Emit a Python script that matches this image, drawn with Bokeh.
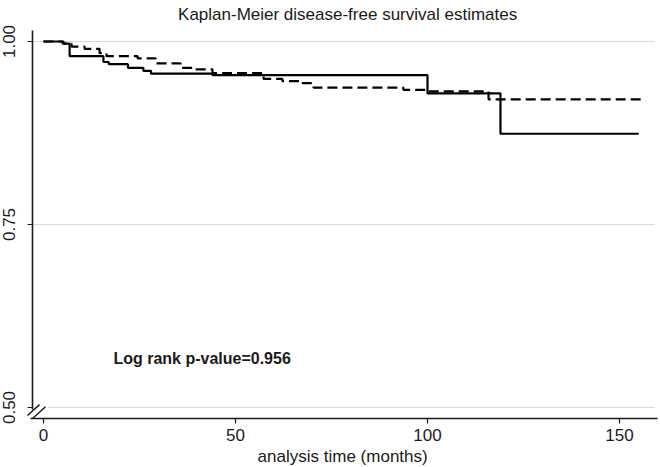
from bokeh.plotting import figure
from bokeh.models import Range1d, Label, FixedTicker, LinearAxis, NumeralTickFormatter
from bokeh.embed import file_html
from bokeh.resources import INLINE

# ---- texts ----
title_text = "Kaplan-Meier disease-free survival estimates"
x_label = "analysis time (months)"
note_text = "Log rank p-value=0.956"

# ---- ticks ----
x_ticks = [0, 50, 100, 150]
y_ticks = [0.50, 0.75, 1.00]
y_tick_labels = ["0.50", "0.75", "1.00"]

# ---- survival curves (time in months, survival probability) ----
group1_t = [0, 5.0, 6.8, 15.6, 17.0, 22.0, 26.0, 28.0, 44.0, 100.0, 119.0, 155.0]
group1_s = [1.0, 0.997, 0.980, 0.972, 0.969, 0.964, 0.960, 0.956, 0.954, 0.929, 0.874, 0.874]

group2_t = [0, 5.2, 7.3, 10.7, 14.6, 16.4, 24.5, 29.2, 35.7, 39.6, 44.0, 57.3, 62.2,
            66.9, 70.3, 93.7, 99.7, 115.9, 156.8]
group2_s = [1.0, 0.997, 0.993, 0.990, 0.984, 0.980, 0.977, 0.970, 0.964, 0.962, 0.957,
            0.949, 0.946, 0.943, 0.937, 0.934, 0.932, 0.921, 0.921]

FONT = "Liberation Sans"
INK = "#1a1a1a"

W, H = 658, 466
x_start = -11.2
x_end = x_start + W / 3.84
y_end = 1.05601
y_start = y_end - H / 732.0
x_axis_at = 0.485
y_axis_at = -2.86

p = figure(frame_width=W, frame_height=H, output_backend="svg", toolbar_location=None,
           x_range=Range1d(x_start, x_end), y_range=Range1d(y_start, y_end),
           x_axis_location=None, y_axis_location=None, min_border=0,
           outline_line_color=None, background_fill_color="white", border_fill_color="white")
p.xgrid.visible = False
p.ygrid.visible = False

# grid lines
grid_x0 = [1.3 if yt == min(y_ticks) else -2.6 for yt in y_ticks]
p.segment(x0=grid_x0, y0=y_ticks, x1=[x_end - 1] * len(y_ticks), y1=y_ticks,
          line_color="#d8d8d8", line_width=1.2)

# axes
xaxis = LinearAxis(fixed_location=x_axis_at, ticker=FixedTicker(ticks=x_ticks),
                   bounds=(-3.4, 160))
yaxis = LinearAxis(fixed_location=y_axis_at, ticker=FixedTicker(ticks=y_ticks),
                   bounds=(0.497, 1.015), formatter=NumeralTickFormatter(format="0.00"))
yaxis.major_label_overrides = dict(zip(y_ticks, y_tick_labels))
yaxis.major_label_orientation = "vertical"
for ax in (xaxis, yaxis):
    ax.axis_line_color = INK
    ax.axis_line_width = 1.6
    ax.major_tick_line_color = INK
    ax.major_tick_line_width = 1.2
    ax.major_tick_out = 5
    ax.major_tick_in = 0
    ax.minor_tick_line_color = None
    ax.major_label_text_color = INK
    ax.major_label_text_font = FONT
xaxis.major_label_text_font_size = "17px"
xaxis.major_label_standoff = 6
yaxis.major_label_text_font_size = "17px"
yaxis.major_label_standoff = 13
p.add_layout(xaxis, "below")
p.add_layout(yaxis, "left")

# axis break mark
p.segment(x0=[-4.17, -2.86], y0=[0.489, 0.485], x1=[-1.04, 0.52], y1=[0.504, 0.501],
          line_color=INK, line_width=1.5)

# curves
p.step(group1_t, group1_s, mode="after", line_color="black", line_width=2.2)
p.step(group2_t, group2_s, mode="after", line_color="black", line_width=2.2,
       line_dash="10 5")

# title
p.add_layout(Label(x=79.2, y=1.0375, text=title_text, text_font=FONT,
                   text_font_size="17px", text_color=INK, text_align="center",
                   text_baseline="middle"))

# x axis title
p.add_layout(Label(x=77.9, y=0.4335, text=x_label, text_font=FONT,
                   text_font_size="17px", text_color=INK, text_align="center",
                   text_baseline="middle"))

p.add_layout(Label(x=18.2, y=0.567, text=note_text, text_font=FONT,
                   text_font_size="16px", text_font_style="bold", text_color=INK,
                   text_baseline="alphabetic"))

open("out.html", "w").write(file_html(p, INLINE))
